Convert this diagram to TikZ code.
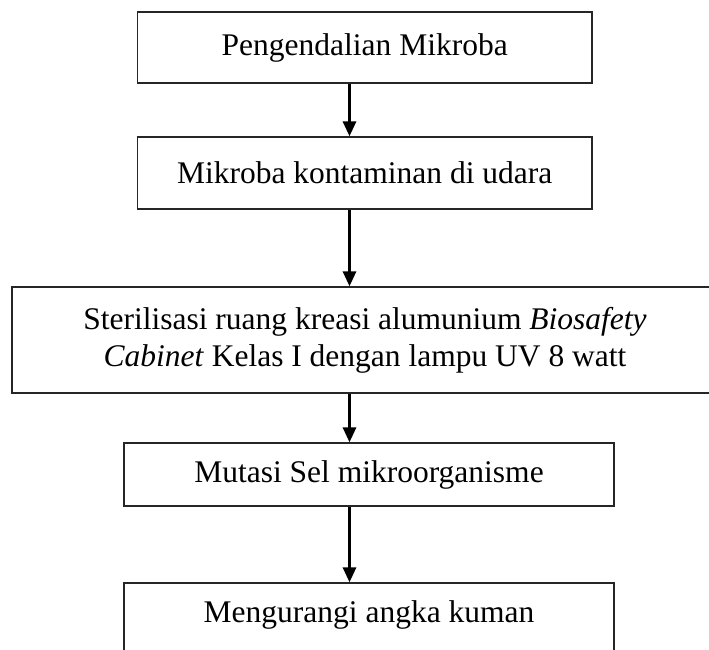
\documentclass[tikz,border=0pt]{standalone}
\usepackage{fontspec}
\setmainfont{Liberation Serif}
\usetikzlibrary{arrows.meta}
\tikzset{
  box/.style={draw=black!85, line width=1.3pt, inner sep=0pt, align=center,
    font=\fontsize{31.5}{37}\selectfont},
  arr/.style={line width=3pt, -{Triangle[width=13pt,length=15pt]}}
}
\begin{document}
\begin{tikzpicture}[x=1pt,y=-1pt]
\useasboundingbox (0,0) rectangle (709,649);
\clip (0,0) rectangle (709,649);
\node[box, minimum width=454.5pt, minimum height=71pt] (b1) at (364.75,47.5) {Pengendalian Mikroba};
\node[box, minimum width=454.5pt, minimum height=72pt] (b2) at (364.75,173) {Mikroba kontaminan di udara};
\node[box, minimum width=706pt, minimum height=106pt] (b3) at (365,340)
  {Sterilisasi ruang kreasi alumunium \textit{Biosafety}\\\textit{Cabinet} Kelas I dengan lampu UV 8 watt};
\node[box, minimum width=490pt, minimum height=63pt] (b4) at (369,474.5) {Mutasi Sel mikroorganisme};
\node[box, minimum width=490pt, minimum height=84pt, text height=21.5pt, text depth=27.5pt] (b5) at (369,625) {Mengurangi angka kuman};
\coordinate (ax) at (349.5,0);
\draw[arr] (b1.south -| ax) -- (b2.north -| ax);
\draw[arr] (b2.south -| ax) -- (b3.north -| ax);
\draw[arr] (b3.south -| ax) -- (b4.north -| ax);
\draw[arr] (b4.south -| ax) -- (b5.north -| ax);
\end{tikzpicture}
\end{document}
